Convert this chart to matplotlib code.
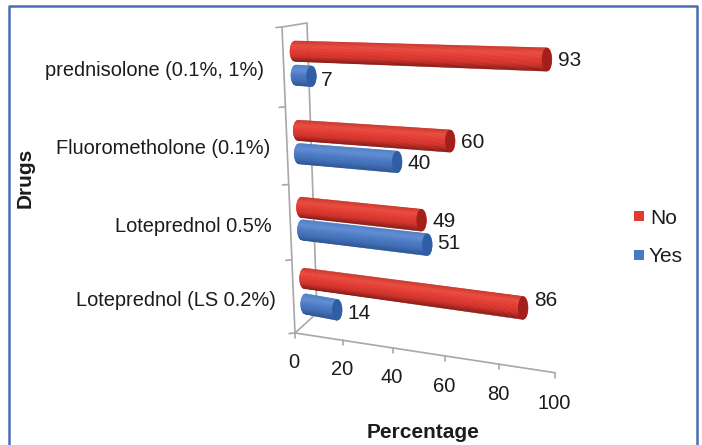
#!/usr/bin/env python

import numpy as np
import matplotlib
matplotlib.use('Agg')
import matplotlib.pyplot as plt
from matplotlib.colors import to_rgb
from matplotlib.patches import Ellipse, Polygon, Rectangle

plt.rcParams['font.family'] = ['Liberation Sans', 'DejaVu Sans']

# bottom to top, the way the category axis runs
drugs = ['Loteprednol (LS 0.2%)', 'Loteprednol 0.5%', 'Fluorometholone (0.1%)', 'prednisolone (0.1%, 1%)']
no_values = [86, 49, 60, 93]
yes_values = [14, 51, 40, 7]
value_ticks = [0, 20, 40, 60, 80, 100]

# label nudges in pixels, the chart placed them by hand
no_row_offset = [0.75, 0.7, 0.7, 0.7]
no_label_dy = [-9, -1, -1, -1]
yes_label_dy = [2, -3, 0, 2]
drug_label_right = [276, 272, 270, 264]
drug_label_y = [299, 225, 147, 68]

NO_SHADES = ['#c9352b', '#ea4a3e', '#e23a30', '#d0302a', '#8a1a14']
YES_SHADES = ['#4f7cc4', '#5f8dd2', '#4a79c4', '#3f6cb4', '#2a5596']
NO_CAP = '#a3201a'
YES_CAP = '#2f5ea6'
AXIS_GRAY = '#a8a8a8'
BORDER = '#4a6db5'
TEXT = '#1c1c1c'
FS = 15


# the chart is a fake 3D one: rows and values are projected to pixels
def row_y(r):
    return 333 - 72 * r - 1.125 * r ** 2


def row_x(r):
    return 295 - 3.25 * r


def value_span(v, r=1.0):
    return (2.35 * v + 0.0025 * v ** 2) * (1 + 0.0046 * (r - 1) + 0.0061 * (r - 1) ** 2)


def row_slope(y):
    return 0.032 + 0.00043 * (y - 52)


def shade(shades, t):
    stops = np.linspace(-1, 1, len(shades))
    rgb = np.array([to_rgb(c) for c in shades])
    return [np.interp(t, stops, rgb[:, i]) for i in range(3)]


def draw_cylinder(ax, value, r, shades, cap_color, h_left=20.5, cap=5):
    xl = row_x(r) + 7
    xr = xl + value_span(value, r) + 8
    yl = row_y(r)
    yr = yl + row_slope(yl) * (xr - xl)
    # a bit fatter at the far end, like the perspective of the original
    h_right = h_left + 0.011 * (xr - xl)
    ts = np.linspace(-1, 1, 29)
    for t0, t1 in zip(ts[:-1], ts[1:]):
        i0 = cap * (1 - np.sqrt(1 - t0 ** 2))
        i1 = cap * (1 - np.sqrt(1 - t1 ** 2))
        color = shade(shades, (t0 + t1) / 2)
        pts = [(xl + i0, yl + t0 * h_left / 2), (xr - i0, yr + t0 * h_right / 2),
               (xr - i1, yr + t1 * h_right / 2), (xl + i1, yl + t1 * h_left / 2)]
        ax.add_patch(Polygon(pts, closed=True, facecolor=color, edgecolor=color, lw=0.4, zorder=3))
    ax.add_patch(Ellipse((xr - cap, yr), 2 * cap, h_right, facecolor=cap_color, edgecolor='none', zorder=3))
    return xr, yr


def draw_axes(ax):
    kw = dict(color=AXIS_GRAY, lw=1.2, zorder=1, solid_capstyle='round')
    ax.plot([row_x(0), row_x(4)], [row_y(0), row_y(4)], **kw)
    ax.plot([row_x(4), 307], [row_y(4), 23], **kw)
    ax.plot([307, 317], [23, 313], **kw)
    ax.plot([row_x(0), 317], [row_y(0), 313], **kw)
    for r in range(5):
        ax.plot([row_x(r) - 6, row_x(r)], [row_y(r) + 0.5, row_y(r)], **kw)
    xs = [row_x(0) + value_span(v) for v in value_ticks]
    ys = [row_y(0) + row_slope(row_y(0)) * (x - row_x(0)) for x in xs]
    ax.plot(xs, ys, **kw)
    for v, x, y in zip(value_ticks, xs, ys):
        ax.plot([x, x], [y, y + 5], **kw)
        ax.text(x - 1, y + 27 + 0.02 * v, str(v), ha='center', va='center_baseline', fontsize=FS - 0.5, color=TEXT)


def main():
    fig = plt.figure(figsize=(7.02, 4.45), dpi=100)
    fig.patch.set_facecolor('white')
    ax = fig.add_axes([0, 0, 1, 1])
    ax.set_xlim(0, 702)
    ax.set_ylim(445, 0)
    ax.axis('off')

    # frame is cut off at the bottom of the picture
    ax.plot([9, 9, 697, 697], [445, 6, 6, 445], color=BORDER, lw=1.8, zorder=5)

    draw_axes(ax)

    for i, drug in enumerate(drugs):
        xr, yr = draw_cylinder(ax, yes_values[i], i + 0.4, YES_SHADES, YES_CAP)
        ax.text(xr + 5, yr + yes_label_dy[i], str(yes_values[i]), ha='left', va='center_baseline',
                fontsize=FS, color=TEXT, zorder=4)
        xr, yr = draw_cylinder(ax, no_values[i], i + no_row_offset[i], NO_SHADES, NO_CAP)
        ax.text(xr + 6, yr + no_label_dy[i], str(no_values[i]), ha='left', va='center_baseline',
                fontsize=FS, color=TEXT, zorder=4)
        ax.text(drug_label_right[i], drug_label_y[i], drug, ha='right', va='center_baseline',
                fontsize=14.4, color=TEXT)

    ax.text(423, 430, 'Percentage', ha='center', va='center_baseline', fontsize=FS, fontweight='bold', color=TEXT)
    ax.text(25, 178, 'Drugs', ha='center', va='center', rotation=90, fontsize=FS, fontweight='bold', color=TEXT)

    ax.add_patch(Rectangle((634, 211), 10, 10, facecolor='#e23a30', edgecolor='none'))
    ax.add_patch(Rectangle((634, 250), 10, 10, facecolor='#4a79c4', edgecolor='none'))
    ax.text(650, 216, 'No', ha='left', va='center_baseline', fontsize=FS, color=TEXT)
    ax.text(649, 255, 'Yes', ha='left', va='center_baseline', fontsize=FS, color=TEXT)

    fig.savefig('out.png', dpi=100)


if __name__ == "__main__":
    main()
